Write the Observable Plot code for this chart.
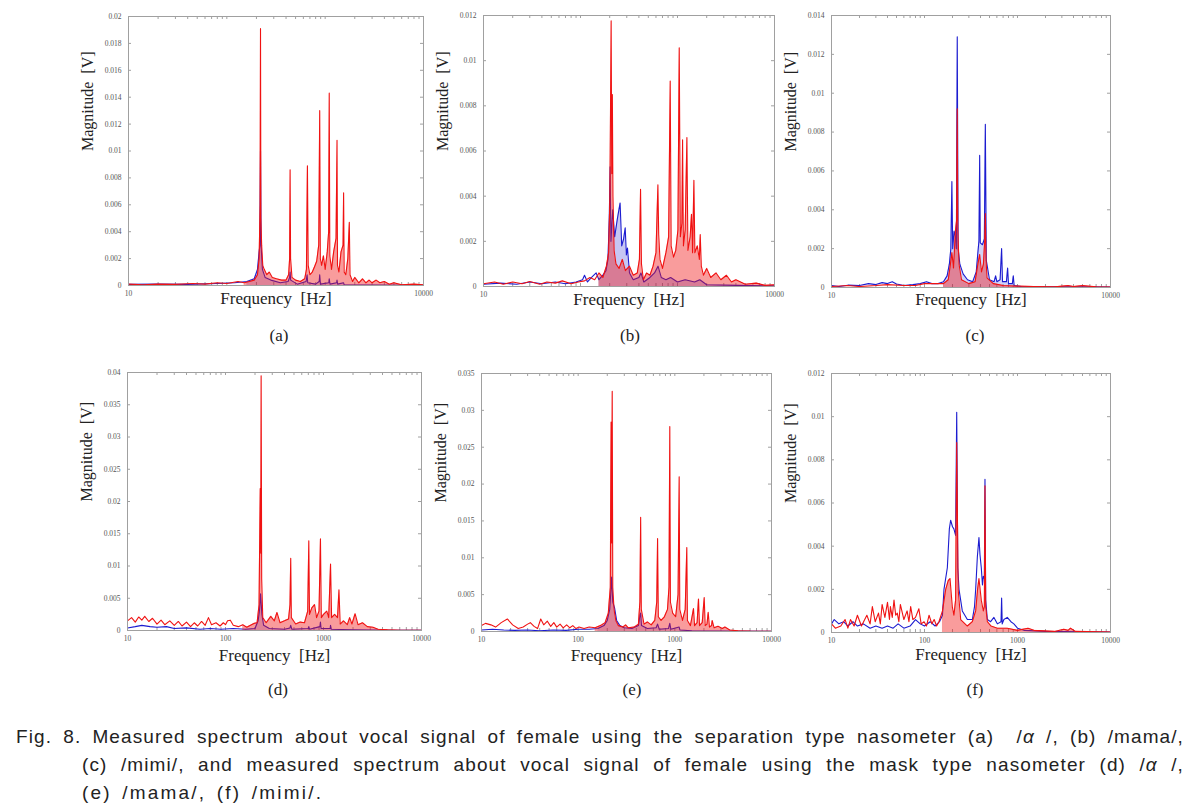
<!DOCTYPE html>
<html><head><meta charset="utf-8">
<script src="https://cdn.jsdelivr.net/npm/d3@7"></script>
<script src="https://cdn.jsdelivr.net/npm/@observablehq/plot@0.6"></script>
<style>
body{margin:0;background:#fff;width:1203px;height:809px;position:relative;overflow:hidden;font-family:"Liberation Serif",serif}
.pl{position:absolute}
.lab{position:absolute;font:17px "Liberation Serif",serif;color:#222;transform:translate(-50%,-50%);white-space:nowrap}
.cap{position:absolute;font-family:"Liberation Sans",Arial,sans-serif;font-size:19px;color:#222;white-space:nowrap;letter-spacing:2.2px;word-spacing:3px;line-height:28px}
.just{text-align:justify;text-align-last:justify;white-space:normal;letter-spacing:1.1px;word-spacing:2px}
</style></head>
<body>
<script>
// ---------- tick values ----------
const yTicksA = [0,0.002,0.004,0.006,0.008,0.01,0.012,0.014,0.016,0.018,0.02];
const yTicksB = [0,0.002,0.004,0.006,0.008,0.01,0.012];
const yTicksC = [0,0.002,0.004,0.006,0.008,0.01,0.012,0.014];
const yTicksD = [0,0.005,0.01,0.015,0.02,0.025,0.03,0.035,0.04];
const yTicksE = [0,0.005,0.01,0.015,0.02,0.025,0.03,0.035];
const yTicksF = [0,0.002,0.004,0.006,0.008,0.01,0.012];
const xLabelsTop = [10,10000];
const xLabelsBottom = [10,100,1000,10000];
const xMinor = [10,20,30,40,50,60,70,80,90,100,200,300,400,500,600,700,800,900,1000,2000,3000,4000,5000,6000,7000,8000,9000,10000];
const panelLetters = ["(a)","(b)","(c)","(d)","(e)","(f)"];

// ---------- series: [frequency Hz, magnitude V] ----------
const aRed = [[10,0.0001],[14,0.00005],[20,0.0001],[30,0.00008],[45,0.00015],[60,0.0001],[80,0.0002],[100,0.00015],[130,0.0003],[150,0.0002],[170,0.0003],[190,0.0004],[205,0.0008],[213,0.002],[218,0.006],[220,0.0191],[222,0.005],[226,0.003],[232,0.0015],[240,0.0012],[255,0.0008],[270,0.001],[290,0.0006],[320,0.0005],[360,0.0004],[400,0.0004],[425,0.0008],[435,0.002],[440,0.0086],[445,0.002],[460,0.0006],[500,0.0004],[560,0.0003],[620,0.0005],[645,0.0012],[660,0.0089],[672,0.0015],[700,0.0008],[740,0.001],[780,0.0014],[820,0.0018],[860,0.003],[880,0.013],[893,0.002],[920,0.0015],[960,0.0022],[1000,0.0012],[1050,0.0025],[1085,0.004],[1100,0.0143],[1115,0.0022],[1160,0.0012],[1220,0.0025],[1290,0.0035],[1320,0.0108],[1335,0.0015],[1380,0.001],[1450,0.0025],[1520,0.003],[1540,0.0069],[1560,0.001],[1620,0.0008],[1700,0.002],[1760,0.0047],[1790,0.0008],[1900,0.0003],[2000,0.0006],[2200,0.0002],[2400,0.0005],[2600,0.0002],[2800,0.0004],[3000,0.0002],[3300,0.0004],[3600,0.0002],[4000,0.0003],[4500,0.0001],[5000,0.0002],[6000,0.00005],[8000,0.0001],[10000,0.00005]];
const aBlue = [[10,0.00008],[20,0.0001],[40,0.00008],[80,0.00015],[120,0.0002],[160,0.0003],[190,0.0005],[205,0.0012],[213,0.0025],[217,0.003],[220,0.010],[223,0.003],[230,0.0012],[245,0.0006],[280,0.0004],[350,0.0002],[420,0.0003],[435,0.0006],[440,0.001],[446,0.0004],[520,0.0001],[640,0.0003],[655,0.0008],[665,0.0002],[800,0.0001],[870,0.0003],[880,0.0008],[895,0.0001],[1090,0.0002],[1100,0.0005],[1120,0.0001],[1310,0.0002],[1320,0.0004],[1340,0.0001],[1540,0.0002],[1560,0.00005],[3000,0.00003],[10000,0.00002]];

const bRed = [[10,0.00012],[13,0.0002],[16,0.0001],[20,0.0002],[25,0.00012],[30,0.00022],[38,0.0001],[45,0.0002],[55,0.00015],[65,0.00025],[80,0.00012],[95,0.0002],[110,0.00025],[125,0.0004],[140,0.0003],[155,0.0006],[170,0.0004],[185,0.0009],[195,0.0015],[201,0.004],[207,0.01176],[210,0.005],[213,0.0085],[216,0.004],[222,0.0016],[232,0.001],[250,0.0008],[270,0.0012],[290,0.0007],[320,0.0009],[350,0.0005],[385,0.0006],[405,0.0012],[416,0.0043],[425,0.001],[445,0.0003],[480,0.0006],[520,0.0005],[560,0.0009],[600,0.0015],[628,0.0045],[640,0.0023],[660,0.0012],[700,0.0008],[760,0.0015],[810,0.0022],[841,0.0091],[860,0.0018],[910,0.0013],[960,0.0016],[1010,0.0025],[1042,0.01057],[1070,0.0022],[1110,0.0028],[1128,0.0065],[1150,0.0018],[1200,0.0025],[1250,0.0066],[1280,0.0016],[1350,0.0022],[1394,0.0032],[1430,0.0015],[1476,0.0047],[1510,0.0015],[1600,0.0018],[1680,0.0012],[1715,0.0023],[1760,0.0009],[1850,0.0005],[2000,0.0008],[2200,0.0004],[2500,0.0006],[2800,0.0003],[3200,0.0005],[3600,0.0002],[4000,0.0003],[5000,0.0001],[6500,0.00015],[8000,0.00005],[10000,0.00008]];
const bBlue = [[10,0.0001],[15,0.00015],[22,0.0001],[30,0.0002],[40,0.00012],[55,0.0002],[70,0.00012],[90,0.0002],[105,0.0003],[110,0.0005],[118,0.0002],[130,0.0004],[145,0.0006],[155,0.0003],[170,0.0005],[183,0.0007],[192,0.0012],[198,0.003],[202,0.0053],[206,0.002],[215,0.0034],[225,0.0022],[240,0.003],[256,0.0037],[266,0.0018],[278,0.0021],[289,0.0026],[297,0.0014],[305,0.0017],[320,0.0006],[350,0.0003],[400,0.0004],[420,0.0006],[450,0.0002],[520,0.0004],[580,0.0006],[630,0.0009],[680,0.0004],[760,0.0003],[850,0.0004],[1000,0.0002],[1200,0.0003],[1500,0.0002],[1700,0.0003],[2000,0.00008],[4000,0.00005],[10000,0.00003]];

const cRed = [[10,0.00005],[15,0.0001],[20,0.00005],[30,0.0001],[40,0.00015],[60,0.0001],[80,0.0001],[100,0.0002],[130,0.0002],[160,0.0002],[180,0.0004],[190,0.0012],[197,0.0018],[205,0.001],[215,0.0029],[222,0.0035],[225,0.0092],[228,0.003],[235,0.0012],[250,0.0004],[300,0.0002],[350,0.0003],[375,0.0012],[392,0.0017],[410,0.0008],[430,0.0012],[445,0.0025],[451,0.0038],[458,0.0015],[470,0.0005],[550,0.0002],[700,0.0001],[900,0.00008],[1500,0.00005],[2500,0.00003],[3500,0.0001],[4000,0.00005],[5000,0.0001],[7000,0.00003],[10000,0.00002]];
const cBlue = [[10,0.0001],[12,0.00005],[15,0.00012],[20,0.0001],[25,0.0002],[30,0.00015],[35,0.00025],[40,0.0002],[45,0.0003],[50,0.00018],[60,0.0001],[75,0.00015],[90,0.0002],[105,0.0003],[120,0.0002],[140,0.0002],[160,0.0003],[175,0.0006],[185,0.0012],[192,0.002],[197,0.00545],[201,0.002],[208,0.0029],[215,0.0026],[220,0.002],[225,0.0129],[230,0.002],[240,0.0012],[260,0.0007],[290,0.0004],[330,0.0003],[360,0.0008],[375,0.0018],[385,0.0024],[392,0.0068],[398,0.0023],[420,0.0022],[440,0.0025],[451,0.0084],[462,0.0014],[500,0.0004],[560,0.0003],[582,0.0006],[600,0.0003],[650,0.0004],[675,0.002],[690,0.0003],[760,0.0003],[783,0.001],[800,0.0002],[880,0.0002],[901,0.0006],[920,0.0001],[1100,0.00005],[2000,0.00003],[5000,0.00003],[10000,0.00002]];

const dRed = [[10,0.0015],[11,0.002],[12,0.0013],[13,0.0021],[14,0.0016],[15,0.0022],[16.5,0.0014],[18,0.0019],[20,0.001],[22,0.0016],[24,0.0009],[27,0.0015],[30,0.0008],[33,0.0014],[36,0.0007],[40,0.0013],[44,0.0006],[48,0.0012],[52,0.0007],[57,0.0014],[62,0.0008],[67,0.002],[72,0.0009],[80,0.0012],[88,0.0007],[95,0.0012],[100,0.0009],[105,0.0015],[112,0.0016],[120,0.0008],[135,0.0006],[150,0.0009],[165,0.0005],[180,0.0008],[195,0.0011],[210,0.0012],[220,0.004],[226,0.022],[229,0.012],[231,0.0395],[234,0.008],[240,0.002],[260,0.0012],[290,0.0022],[315,0.0015],[335,0.0028],[360,0.0012],[400,0.0015],[440,0.0018],[455,0.004],[463,0.0112],[470,0.002],[520,0.001],[580,0.0013],[640,0.0012],[690,0.003],[708,0.0139],[720,0.0025],[760,0.0035],[810,0.004],[850,0.002],[900,0.003],[931,0.0142],[950,0.002],[1000,0.0025],[1080,0.003],[1130,0.002],[1180,0.0103],[1210,0.002],[1300,0.0025],[1390,0.002],[1438,0.0063],[1480,0.001],[1600,0.0015],[1750,0.0009],[1850,0.002],[1950,0.001],[2100,0.0026],[2250,0.0009],[2500,0.0012],[2800,0.0006],[3200,0.0005],[3600,0.0002],[4500,0.0001],[6000,0.00005],[10000,0.00003]];
const dBlue = [[10,0.0004],[12,0.0006],[14,0.0008],[17,0.0006],[20,0.0005],[25,0.0006],[30,0.0003],[40,0.0004],[55,0.0002],[70,0.0003],[90,0.0002],[120,0.0003],[160,0.0002],[200,0.0003],[215,0.0015],[222,0.003],[228,0.0057],[235,0.0025],[245,0.0008],[280,0.0003],[400,0.0002],[455,0.0004],[463,0.0008],[475,0.0002],[700,0.0003],[708,0.0006],[720,0.0002],[920,0.0006],[931,0.0013],[945,0.0003],[1170,0.0003],[1180,0.0008],[1200,0.0002],[2000,0.0001],[5000,0.00003],[10000,0.00002]];

const eRed = [[10,0.0008],[11,0.0011],[12.5,0.0009],[14,0.0006],[16,0.0012],[18.5,0.0017],[21,0.0009],[24,0.0004],[27,0.0006],[30,0.001],[32,0.0012],[35,0.0007],[38,0.0004],[41,0.0017],[44,0.0009],[48,0.0014],[52,0.0007],[56,0.0012],[60,0.0006],[65,0.001],[70,0.0005],[76,0.0009],[82,0.0005],[88,0.0008],[95,0.0004],[102,0.0006],[115,0.0004],[130,0.0006],[150,0.0005],[170,0.0008],[190,0.0012],[205,0.0025],[215,0.006],[219,0.0284],[222,0.012],[225,0.0326],[228,0.006],[235,0.003],[245,0.0015],[260,0.0008],[290,0.0006],[310,0.0009],[330,0.0005],[380,0.0006],[420,0.001],[435,0.004],[443,0.0155],[450,0.003],[480,0.001],[520,0.0013],[570,0.0009],[620,0.0015],[650,0.004],[663,0.0126],[675,0.002],[720,0.0015],[780,0.002],[840,0.003],[870,0.006],[887,0.0278],[900,0.004],[950,0.0025],[1020,0.002],[1080,0.005],[1109,0.021],[1125,0.003],[1200,0.0015],[1280,0.003],[1330,0.0114],[1350,0.0015],[1450,0.0008],[1560,0.0031],[1600,0.0008],[1700,0.0012],[1757,0.0044],[1800,0.0008],[1920,0.0012],[2013,0.0046],[2060,0.0008],[2150,0.001],[2214,0.0026],[2280,0.0006],[2400,0.0008],[2433,0.0015],[2550,0.0005],[2800,0.0007],[3100,0.0004],[3300,0.0006],[3700,0.0002],[4500,0.0001],[6000,0.00005],[10000,0.00003]];
const eBlue = [[10,0.0002],[13,0.0003],[17,0.0002],[22,0.00015],[30,0.0002],[40,0.0001],[55,0.0002],[75,0.00015],[100,0.0003],[130,0.0003],[160,0.0004],[185,0.0008],[200,0.0015],[212,0.003],[218,0.0055],[222,0.0074],[228,0.004],[238,0.0032],[250,0.0015],[270,0.0008],[300,0.0005],[360,0.0004],[420,0.0008],[436,0.0022],[443,0.0025],[452,0.0008],[520,0.0004],[640,0.0005],[663,0.001],[690,0.0003],[860,0.0004],[887,0.0011],[910,0.0003],[1109,0.0006],[1130,0.0002],[1500,0.0001],[3000,0.00005],[10000,0.00002]];

const fRed = [[10,0.0004],[11,0.0002],[12.6,0.0003],[14,0.0006],[15,0.0002],[16,0.0006],[17.5,0.0003],[19,0.0008],[21,0.0003],[24,0.0008],[26,0.0004],[27.5,0.0012],[29.5,0.0005],[32,0.0009],[33.5,0.0004],[35,0.0013],[37.5,0.0007],[40,0.0014],[42,0.0006],[43,0.0012],[45,0.0007],[47,0.0015],[49,0.0008],[51,0.0009],[53,0.0005],[55,0.0013],[60,0.0006],[65,0.001],[68,0.0005],[71,0.0012],[75,0.0006],[80,0.0007],[87,0.0011],[92,0.0004],[99,0.0005],[105,0.0003],[112,0.0008],[120,0.0004],[127,0.0006],[135,0.0003],[143,0.0005],[156,0.001],[169,0.002],[180,0.0024],[188,0.0025],[199,0.0012],[207,0.0008],[216,0.0015],[222,0.0088],[230,0.002],[245,0.0006],[289,0.0003],[327,0.0005],[355,0.001],[372,0.002],[385,0.0025],[408,0.0015],[429,0.001],[440,0.0012],[447,0.0068],[455,0.0012],[474,0.0005],[520,0.0003],[607,0.0002],[776,0.0002],[1000,0.0001],[1300,0.0002],[1500,0.0001],[2500,0.00005],[3150,0.00015],[3500,0.0001],[3720,0.0002],[4200,0.00005],[10000,0.00002]];
const fBlue = [[10,0.0004],[10.7,0.0006],[12,0.0004],[13.5,0.0005],[15,0.0003],[17,0.0005],[19,0.0003],[22,0.0004],[26,0.0002],[30,0.0003],[35,0.0002],[40,0.0003],[46,0.0002],[52,0.0004],[60,0.0002],[70,0.0003],[80,0.0006],[90,0.0004],[100,0.0003],[115,0.0005],[130,0.0003],[145,0.0005],[156,0.0008],[162,0.002],[176,0.003],[185,0.0048],[191,0.0052],[200,0.0049],[207,0.0048],[216,0.0045],[222,0.0102],[228,0.003],[235,0.002],[255,0.001],[289,0.0006],[327,0.0006],[345,0.0012],[355,0.002],[370,0.0035],[385,0.0044],[395,0.0036],[408,0.003],[420,0.0022],[429,0.0026],[440,0.0025],[447,0.0071],[455,0.0015],[474,0.0006],[514,0.0005],[558,0.0007],[607,0.0004],[665,0.0005],[675,0.0016],[685,0.0004],[714,0.0006],[776,0.0007],[850,0.0005],[914,0.0004],[1000,0.0002],[1171,0.0001],[2000,0.00005],[5000,0.00003],[10000,0.00002]];

// ---------- layout ----------
const panels = [
  {L:128,R:423,T:16,B:285,  yt:yTicksA, xl:xLabelsTop,    red:aRed, blue:aBlue, lx:279, ly:336, xlab:18, bf:0.2},
  {L:483,R:774,T:15,B:286,  yt:yTicksB, xl:xLabelsTop,    red:bRed, blue:bBlue, lx:630, ly:336, xlab:18, bf:0.25},
  {L:831,R:1110,T:15,B:287, yt:yTicksC, xl:xLabelsTop,    red:cRed, blue:cBlue, lx:975, ly:336, xlab:17, bf:0.2},
  {L:127,R:421,T:372,B:630, yt:yTicksD, xl:xLabelsBottom, red:dRed, blue:dBlue, lx:278, ly:690, xlab:30, bf:0.2},
  {L:481,R:771,T:373,B:631, yt:yTicksE, xl:xLabelsBottom, red:eRed, blue:eBlue, lx:632, ly:690, xlab:29, bf:0.2},
  {L:831,R:1110,T:373,B:632,yt:yTicksF, xl:xLabelsBottom, red:fRed, blue:fBlue, lx:975, ly:690, xlab:27, bf:0}
];
const RED = "#f01212", BLUE = "#1c1cd0", FRAME = "#a0a0a0", TICKTXT = "#555";
const FILL_FROM = 150; // dense region shading starts here (Hz)
const mL = 62, mR = 24, mT = 8, mB = 40;

panels.forEach((p, i) => {
  const W = p.R - p.L, H = p.B - p.T;
  const fmt = d => String(+d.toFixed(4));
  const dense = s => s.filter(d => d[0] >= FILL_FROM);
  const svg = Plot.plot({
    width: W + mL + mR, height: H + mT + mB,
    marginLeft: mL, marginRight: mR, marginTop: mT, marginBottom: mB,
    x: {type: "log", domain: [10, 10000]},
    y: {domain: [0, p.yt[p.yt.length - 1]]},
    style: {background: "transparent", overflow: "visible", fontFamily: "'Liberation Serif', serif"},
    marks: [
      Plot.tickY(p.yt, {y: d => d, insetRight: W - 3, stroke: FRAME}),
      Plot.tickY(p.yt, {y: d => d, insetLeft: W - 3, stroke: FRAME}),
      Plot.tickX(xMinor, {x: d => d, insetBottom: H - 3, stroke: FRAME}),
      Plot.tickX(xMinor, {x: d => d, insetTop: H - 3, stroke: FRAME}),
      Plot.areaY(dense(p.blue), {x: d => d[0], y: d => d[1], fill: BLUE, fillOpacity: p.bf, clip: true}),
      Plot.line(p.blue, {x: d => d[0], y: d => d[1], stroke: BLUE, strokeWidth: 1.1, clip: true}),
      Plot.areaY(dense(p.red), {x: d => d[0], y: d => d[1], fill: RED, fillOpacity: 0.42, clip: true}),
      Plot.line(p.red, {x: d => d[0], y: d => d[1], stroke: RED, strokeWidth: 1.1, clip: true}),
      Plot.frame({stroke: FRAME}),
      Plot.axisY({ticks: p.yt, tickFormat: fmt, tickSize: 0, tickPadding: 7, fontSize: 7.5, fill: TICKTXT, label: null}),
      Plot.axisX({ticks: p.xl, tickFormat: d => String(d), tickSize: 0, tickPadding: 5, fontSize: 7.5, fill: TICKTXT, label: null}),
      Plot.text(["Magnitude  [V]"], {frameAnchor: "left", dx: -41, rotate: -90, fontSize: 16, fill: "#222", text: d => d}),
      Plot.text(["Frequency  [Hz]"], {frameAnchor: "bottom", dy: p.xlab, fontSize: 17, fill: "#222", text: d => d})
    ]
  });
  svg.classList.add("pl");
  svg.style.left = (p.L - mL) + "px";
  svg.style.top = (p.T - mT) + "px";
  document.body.appendChild(svg);
  const lab = document.createElement("div");
  lab.className = "lab";
  lab.textContent = panelLetters[i];
  lab.style.left = p.lx + "px";
  lab.style.top = p.ly + "px";
  document.body.appendChild(lab);
});

// ---------- caption ----------
const captionLines = [
  {html: "Fig. 8. Measured spectrum about vocal signal of female using the separation type nasometer (a) &nbsp;/<i>α</i> /, (b) /mama/,", left: 16, right: 1184, top: 723, just: true},
  {html: "(c) /mimi/, and measured spectrum about vocal signal of female using the mask type nasometer (d) /<i>α</i> /,", left: 82, right: 1184, top: 751, just: true},
  {html: "(e) /mama/, (f) /mimi/.", left: 82, right: 1184, top: 779, just: false}
];
captionLines.forEach(c => {
  const d = document.createElement("div");
  d.className = "cap" + (c.just ? " just" : "");
  d.innerHTML = c.html;
  d.style.left = c.left + "px";
  d.style.top = c.top + "px";
  if (c.just) d.style.width = (c.right - c.left) + "px";
  document.body.appendChild(d);
});
</script>
</body></html>
